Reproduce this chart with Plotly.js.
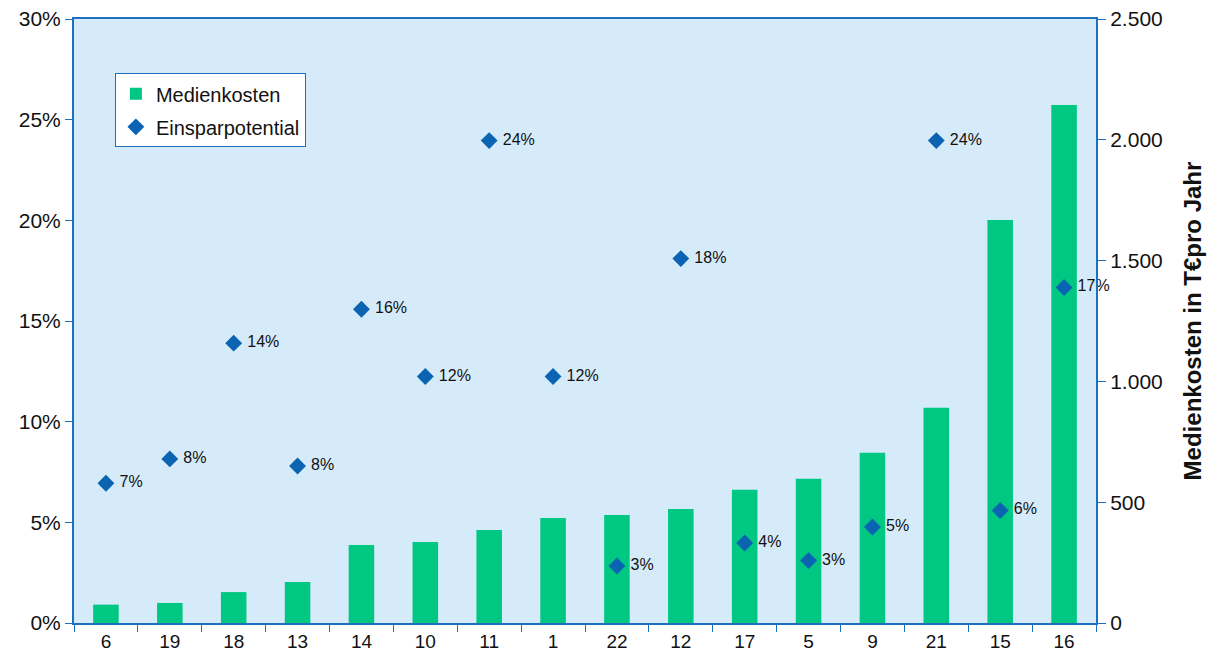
<!DOCTYPE html>
<html>
<head>
<meta charset="utf-8">
<script src="https://cdn.plot.ly/plotly-3.0.1.min.js"></script>
<style>html,body{margin:0;padding:0;background:#fff;}#chart{width:1215px;height:666px;}</style>
</head>
<body>
<div id="chart"></div>
<script>
const categories = ["6","19","18","13","14","10","11","1","22","12","17","5","9","21","15","16"];
const medienkosten = [76, 83, 128, 170, 323, 335, 385, 435, 447, 472, 552, 597, 705, 891, 1668, 2144];
const einsparpotential = [0.0694, 0.0815, 0.139, 0.078, 0.1558, 0.1224, 0.2396, 0.1224, 0.0283, 0.181, 0.0397, 0.031, 0.0477, 0.2396, 0.0559, 0.1667];
const rightTicks = [0, 500, 1000, 1500, 2000, 2500];
const leftTicks = [0, 0.05, 0.10, 0.15, 0.20, 0.25, 0.30];

const axisBlue = '#1f6fbf';
const font = 'Liberation Sans, Arial, sans-serif';

const bars = {
  type: 'bar', name: 'Medienkosten', x: categories, y: medienkosten,
  yaxis: 'y', marker: {color: '#00c882'}, legendgroup: 'a'
};
const pts = {
  type: 'scatter', mode: 'markers+text', name: 'Einsparpotential',
  x: categories, y: einsparpotential, yaxis: 'y2', legendgroup: 'b',
  marker: {symbol: 'diamond', size: 13, color: '#0a64b2'},
  text: einsparpotential.map(v => '\u00a0' + Math.round(v * 100) + '%'),
  textposition: 'middle right',
  textfont: {family: font, size: 16, color: '#111'},
  cliponaxis: false
};

const layout = {
  width: 1215, height: 666,
  margin: {l: 74, r: 119, t: 19, b: 43},
  paper_bgcolor: '#ffffff', plot_bgcolor: '#d6ebfa',
  separators: ',.',
  font: {family: font, color: '#111', size: 20},
  showlegend: true,
  legend: {
    x: 0.04, y: 0.91, xanchor: 'left', yanchor: 'top',
    bgcolor: '#ffffff', bordercolor: axisBlue, borderwidth: 1,
    font: {family: font, size: 20, color: '#111'},
    traceorder: 'grouped', itemwidth: 30, tracegroupgap: 4
  },
  bargap: 0.6,
  xaxis: {
    type: 'category', categoryorder: 'array', categoryarray: categories,
    range: [-0.5, categories.length - 0.5],
    showline: true, linecolor: axisBlue, linewidth: 2, mirror: true,
    ticks: 'outside', tickson: 'boundaries', ticklen: 7, tickcolor: axisBlue, tickwidth: 1,
    tickfont: {family: font, size: 19, color: '#111'},
    showgrid: false, zeroline: false
  },
  yaxis: {
    side: 'right', range: [0, 2500], tickvals: rightTicks, tickformat: ',d',
    showline: true, linecolor: axisBlue, linewidth: 2,
    ticks: 'outside', ticklen: 8, tickcolor: axisBlue, tickwidth: 1,
    tickfont: {family: font, size: 21, color: '#111'},
    showgrid: false, zeroline: false,
    title: {text: 'Medienkosten in T€pro Jahr', font: {family: font, size: 24, color: '#111', weight: 'bold'}, standoff: 22}
  },
  yaxis2: {
    overlaying: 'y', side: 'left', range: [0, 0.30], tickvals: leftTicks, tickformat: '.0%',
    showline: true, linecolor: axisBlue, linewidth: 2,
    ticks: 'outside', ticklen: 7, tickcolor: axisBlue, tickwidth: 1,
    tickfont: {family: font, size: 21, color: '#111'},
    showgrid: false, zeroline: false
  }
};

Plotly.newPlot('chart', [bars, pts], layout, {displayModeBar: false, staticPlot: true});
</script>
</body>
</html>
